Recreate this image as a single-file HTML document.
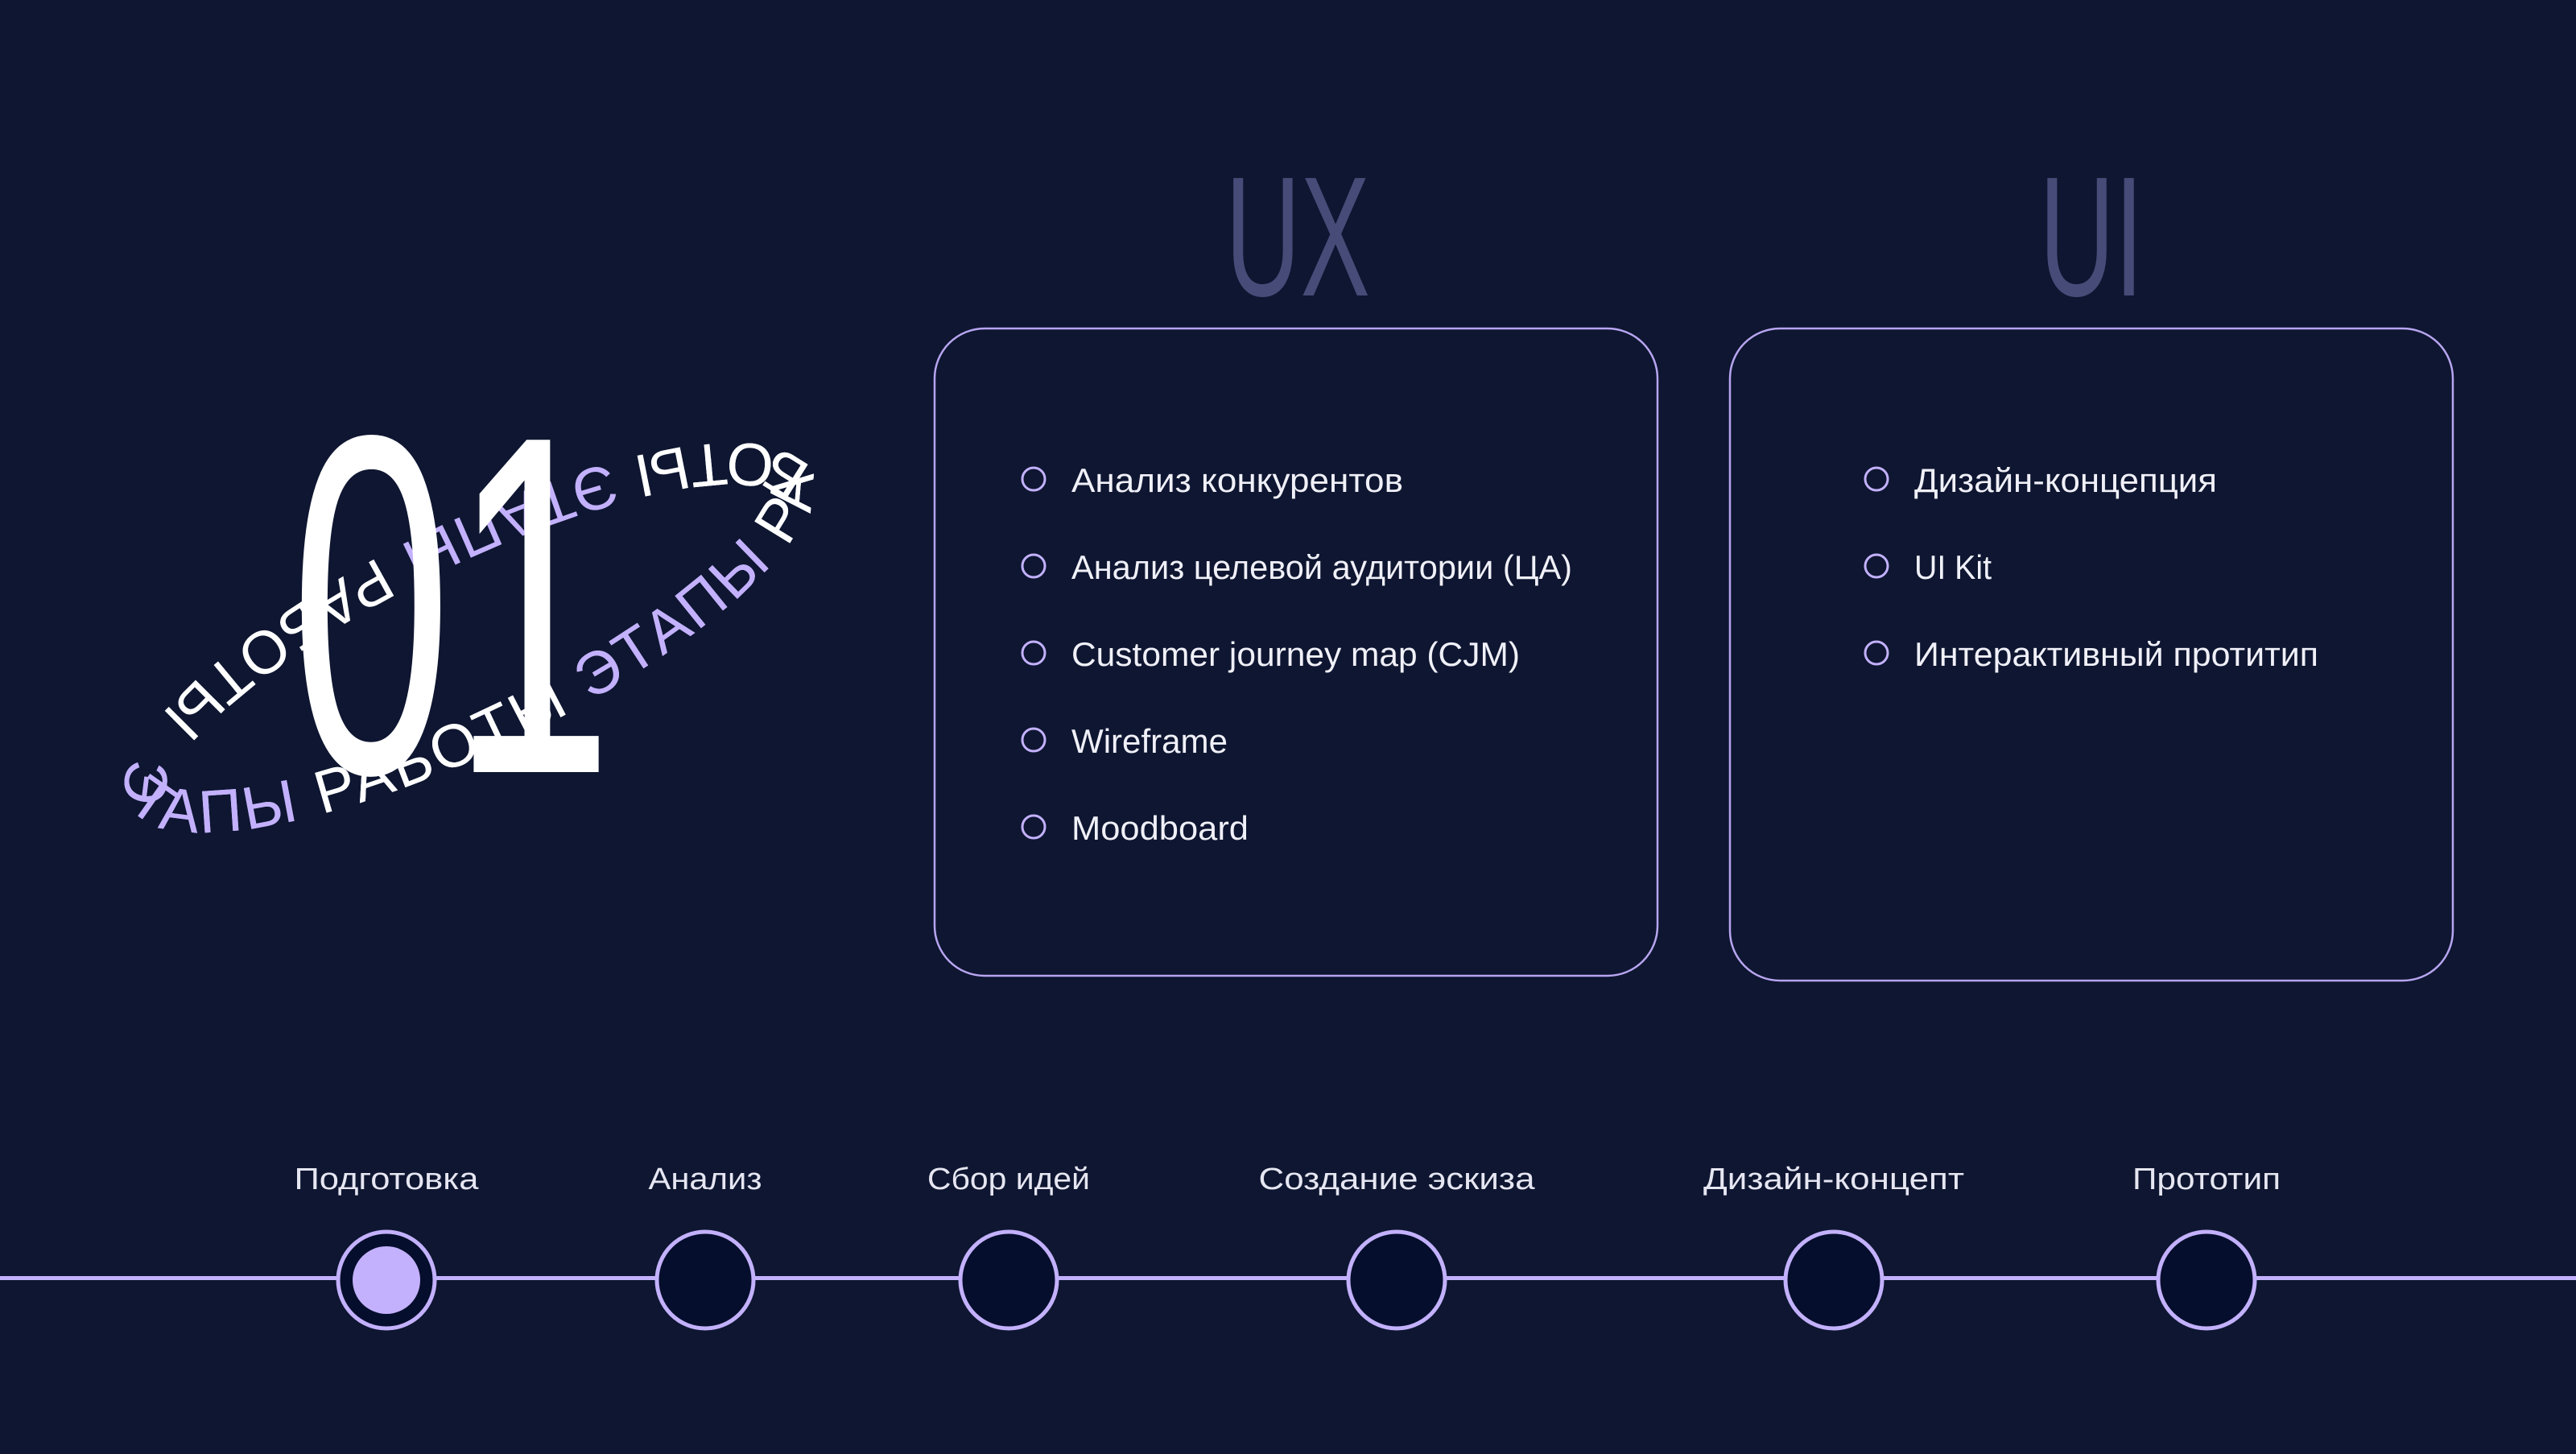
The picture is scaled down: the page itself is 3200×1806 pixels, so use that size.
<!DOCTYPE html>
<html><head><meta charset="utf-8"><style>
html,body{margin:0;padding:0;background:#0e1631;}
svg{display:block;}
text{font-family:"Liberation Sans","DejaVu Sans",sans-serif;}
</style></head><body>
<svg width="3200" height="1806" viewBox="0 0 3200 1806" xmlns="http://www.w3.org/2000/svg">
<defs>
<path id="ell" d="M -442 -48 A 470 140 0 0 0 442 48 A 470 140 0 0 0 -442 -48"/>
<clipPath id="front"><rect x="-700" y="-70" width="1400" height="500"/></clipPath>
</defs>
<rect width="3200" height="1806" fill="#0e1631"/>

<g transform="translate(582,792) rotate(-26)">
<text font-size="75" letter-spacing="4" fill="#ffffff"><textPath href="#ell"><tspan fill="#c3b1fd">ЭТАПЫ</tspan> РАБОТЫ <tspan fill="#c3b1fd">ЭТАПЫ</tspan> РАБОТЫ <tspan fill="#c3b1fd">ЭТАПЫ</tspan> РАБОТЫ</textPath></text>
</g>

<text transform="translate(561,959) scale(0.6,1)" text-anchor="middle" font-size="600" fill="#ffffff">01</text>

<g transform="translate(582,792) rotate(-26)" clip-path="url(#front)">
<text font-size="75" letter-spacing="4" fill="#ffffff"><textPath href="#ell"><tspan fill="#c3b1fd">ЭТАПЫ</tspan> РАБОТЫ <tspan fill="#c3b1fd">ЭТАПЫ</tspan> РАБОТЫ <tspan fill="#c3b1fd">ЭТАПЫ</tspan> РАБОТЫ</textPath></text>
</g>

<text transform="translate(1612,367) scale(0.61,1)" text-anchor="middle" font-size="212" fill="#474b78">UX</text>
<text transform="translate(2598,367) scale(0.61,1)" text-anchor="middle" font-size="212" fill="#474b78">UI</text>

<rect x="1161" y="408" width="898" height="804" rx="62" fill="none" stroke="#b8a5f0" stroke-width="2.5"/>
<rect x="2149" y="408" width="898" height="810" rx="62" fill="none" stroke="#b8a5f0" stroke-width="2.5"/>

<g fill="none" stroke="#c3b1fd" stroke-width="3">
<circle cx="1284" cy="595" r="14"/><circle cx="1284" cy="703" r="14"/><circle cx="1284" cy="811" r="14"/><circle cx="1284" cy="919" r="14"/><circle cx="1284" cy="1027" r="14"/>
<circle cx="2331" cy="595" r="14"/><circle cx="2331" cy="703" r="14"/><circle cx="2331" cy="811" r="14"/>
</g>
<g font-size="42" fill="#f0f0f8">
<text x="1331" y="611" textLength="412" lengthAdjust="spacingAndGlyphs">Анализ конкурентов</text>
<text x="1331" y="719" textLength="622" lengthAdjust="spacingAndGlyphs">Анализ целевой аудитории (ЦА)</text>
<text x="1331" y="827" textLength="557" lengthAdjust="spacingAndGlyphs">Customer journey map (CJM)</text>
<text x="1331" y="935" textLength="194" lengthAdjust="spacingAndGlyphs">Wireframe</text>
<text x="1331" y="1043" textLength="220" lengthAdjust="spacingAndGlyphs">Moodboard</text>
<text x="2378" y="611" textLength="376" lengthAdjust="spacingAndGlyphs">Дизайн-концепция</text>
<text x="2378" y="719" textLength="96" lengthAdjust="spacingAndGlyphs">UI Kit</text>
<text x="2378" y="827" textLength="502" lengthAdjust="spacingAndGlyphs">Интерактивный протитип</text>
</g>

<rect x="0" y="1585" width="3200" height="5" fill="#c3b1fd"/>
<g fill="#050e2c" stroke="#c3b1fd" stroke-width="5">
<circle cx="480" cy="1590" r="60"/><circle cx="876" cy="1590" r="60"/><circle cx="1253" cy="1590" r="60"/><circle cx="1735" cy="1590" r="60"/><circle cx="2278" cy="1590" r="60"/><circle cx="2741" cy="1590" r="60"/>
</g>
<circle cx="480" cy="1590" r="42" fill="#c3b1fd"/>
<g font-size="38" fill="#e6e6f2" text-anchor="middle">
<text x="480" y="1477" textLength="229" lengthAdjust="spacingAndGlyphs">Подготовка</text>
<text x="876" y="1477" textLength="141" lengthAdjust="spacingAndGlyphs">Анализ</text>
<text x="1253" y="1477" textLength="202" lengthAdjust="spacingAndGlyphs">Сбор идей</text>
<text x="1735" y="1477" textLength="343" lengthAdjust="spacingAndGlyphs">Создание эскиза</text>
<text x="2278" y="1477" textLength="324" lengthAdjust="spacingAndGlyphs">Дизайн-концепт</text>
<text x="2741" y="1477" textLength="184" lengthAdjust="spacingAndGlyphs">Прототип</text>
</g>
</svg>
</body></html>
